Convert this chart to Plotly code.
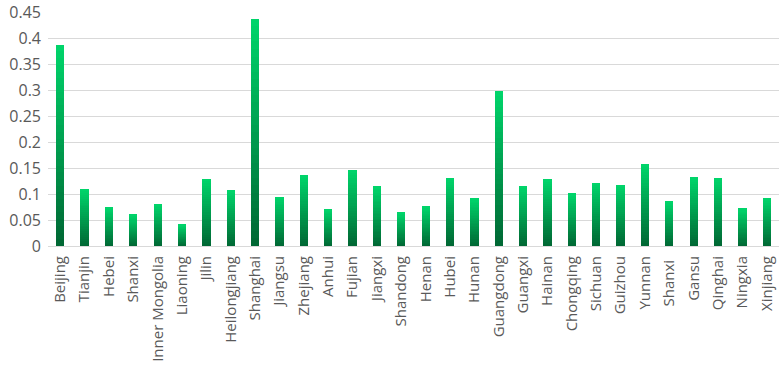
import plotly.graph_objects as go

provinces = ["Beijing", "Tianjin", "Hebei", "Shanxi", "Inner Mongolia", "Liaoning", "Jilin",
             "Heilongjiang", "Shanghai", "Jiangsu", "Zhejiang", "Anhui", "Fujian", "Jiangxi",
             "Shandong", "Henan", "Hubei", "Hunan", "Guangdong", "Guangxi", "Hainan",
             "Chongqing", "Sichuan", "Guizhou", "Yunnan", "Shanxi ", "Gansu", "Qinghai",
             "Ningxia", "Xinjiang"]
values = [0.387, 0.110, 0.074, 0.060, 0.081, 0.041, 0.129, 0.107, 0.437, 0.095, 0.136, 0.071,
          0.146, 0.115, 0.064, 0.076, 0.131, 0.092, 0.298, 0.116, 0.128, 0.101, 0.122, 0.117,
          0.158, 0.086, 0.132, 0.131, 0.072, 0.093]
y_ticks = [0, 0.05, 0.1, 0.15, 0.2, 0.25, 0.3, 0.35, 0.4, 0.45]
y_tick_text = ["0", "0.05", "0.1", "0.15", "0.2", "0.25", "0.3", "0.35", "0.4", "0.45"]

# vertical gradient per bar: stack equal slices of each bar, dark at bottom to bright at top
n_slices = 30
bottom_rgb = (0, 104, 52)
top_rgb = (0, 212, 106)

fig = go.Figure()
for k in range(n_slices):
    t = k / (n_slices - 1)
    c = tuple(round(b + (tp - b) * t) for b, tp in zip(bottom_rgb, top_rgb))
    fig.add_trace(go.Bar(
        x=provinces,
        y=[v / n_slices for v in values],
        marker=dict(color=f"rgb({c[0]},{c[1]},{c[2]})", line=dict(width=0)),
        showlegend=False,
        hoverinfo="skip",
    ))

fig.update_layout(
    width=782, height=370,
    margin=dict(l=48, r=3, t=12, b=123.5),
    barmode="stack",
    bargap=0.66,
    plot_bgcolor="white",
    paper_bgcolor="white",
    font=dict(family="Open Sans", size=15, color="#595959"),
)
fig.update_xaxes(
    automargin=False,
    tickangle=-90,
    showgrid=False,
    showline=True,
    linecolor="#d9d9d9",
    linewidth=1,
    ticks="",
    ticklabelstandoff=3,
    tickfont=dict(size=15, color="#595959"),
)
fig.update_yaxes(
    automargin=False,
    range=[0, 0.45],
    tickvals=y_ticks,
    ticktext=y_tick_text,
    showgrid=True,
    gridcolor="#d9d9d9",
    gridwidth=1,
    zeroline=False,
    ticks="",
    ticklabelstandoff=6,
    tickfont=dict(size=16, color="#595959"),
)

fig.write_html(
    "out.html",
    config={"displayModeBar": False},
    post_script="document.body.style.margin='0';document.body.style.overflow='hidden';",
)
